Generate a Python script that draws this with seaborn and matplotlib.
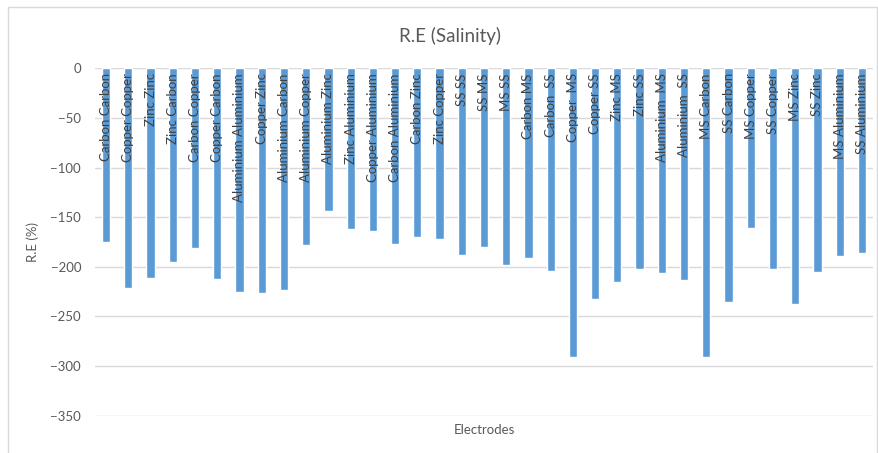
import matplotlib
matplotlib.use("Agg")
import matplotlib.pyplot as plt
import seaborn as sns
import pandas as pd
from matplotlib.patches import Rectangle

electrodes = [
    "Carbon Carbon", "Copper Copper", "Zinc Zinc", "Zinc Carbon", "Carbon Copper",
    "Copper Carbon", "Aluminium Aluminium", "Copper Zinc", "Aluminium Carbon",
    "Aluminium Copper", "Aluminium Zinc", "Zinc Aluminium", "Copper Aluminium",
    "Carbon Aluminium", "Carbon Zinc", "Zinc Copper", "SS SS", "SS MS", "MS SS",
    "Carbon MS", "Carbon  SS", "Copper  MS", "Copper SS", "Zinc MS", "Zinc SS",
    "Aluminium  MS", "Aluminium  SS", "MS Carbon", "SS Carbon", "MS Copper",
    "SS Copper", "MS Zinc", "SS Zinc", "MS Aluminium", "SS Aluminium",
]
re_salinity = [
    -175, -221, -211, -195, -181,
    -212, -225, -226, -223,
    -178, -144, -162, -164,
    -177, -170, -172, -188, -180, -198,
    -191, -204, -291, -232, -215, -202,
    -206, -213, -291, -235, -161,
    -202, -237, -205, -189, -186,
]
y_ticks = [0, -50, -100, -150, -200, -250, -300, -350]

sns.set_theme(style="whitegrid")
plt.rcParams['font.family'] = ['Lato', 'DejaVu Sans']

W, H = 879, 453
fig = plt.figure(figsize=(W / 100, H / 100), dpi=100)
ax = fig.add_axes([95 / W, 1 - 415.7 / H, (873 - 95) / W, (415.7 - 68.3) / H])

df = pd.DataFrame({"Electrodes": electrodes, "RE": re_salinity})
sns.barplot(data=df, x="Electrodes", y="RE", order=electrodes, color="#5B9BD5",
            saturation=1, width=0.37, ax=ax, zorder=2)

ax.set_ylim(-350, 0)
ax.set_yticks(y_ticks)
ax.set_xlim(-0.5, len(electrodes) - 0.5)
ax.set_axisbelow(True)
ax.grid(axis="y", color="#D9D9D9", linewidth=1)
ax.grid(axis="x", visible=False)
for s in ax.spines.values():
    s.set_visible(False)
ax.tick_params(axis="x", length=0, labelbottom=False)
ax.tick_params(axis="y", length=0, labelsize=9.5, labelcolor="#595959", pad=10)

for i, name in enumerate(electrodes):
    ax.annotate(name, xy=(i, 0), xycoords="data", xytext=(0, -3.5),
                textcoords="offset points", rotation=90, ha="center", va="top",
                fontsize=9.5, color="#404040", zorder=5)

ax.set_xlabel("Electrodes", fontsize=9.5, color="#595959", labelpad=6)
ax.set_ylabel("R.E (%)", fontsize=9.5, color="#595959", labelpad=8)
fig.text(450 / W, 1 - 36 / H, "R.E (Salinity)", ha="center", va="center",
         fontsize=13.5, color="#595959")

fig.add_artist(Rectangle((8 / W, -0.01), (877 - 8) / W, (1 - 7 / H) + 0.01,
                         transform=fig.transFigure, fill=False,
                         edgecolor="#D9D9D9", linewidth=1))

fig.savefig("out.png", dpi=100)
